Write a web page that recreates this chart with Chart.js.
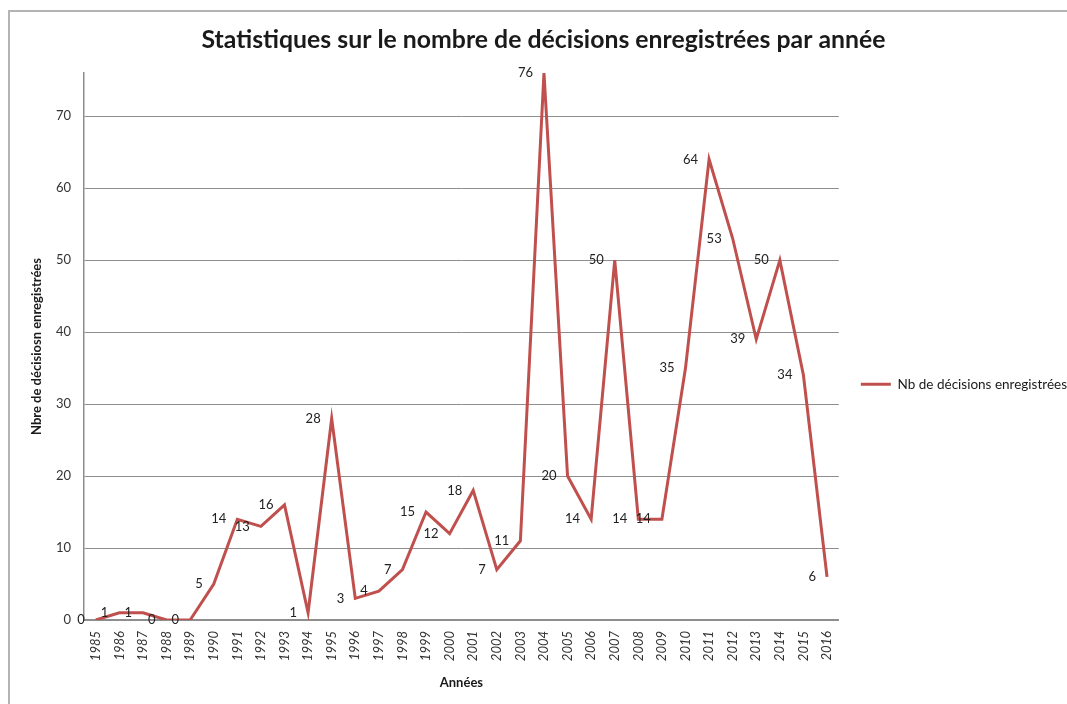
<!DOCTYPE html>
<html>
<head>
<meta charset="utf-8">
<script src="https://cdn.jsdelivr.net/npm/chart.js@4"></script>
<style>
  body { margin: 0; background: #fff; }
  #frame {
    position: absolute; left: 8px; top: 10px; right: 0; bottom: 0;
    border-top: 2px solid #b4b4b4; border-left: 2px solid #b4b4b4;
  }
  #myChart { position: absolute; left: 0; top: 0; }
</style>
</head>
<body>
<div id="frame"></div>
<canvas id="myChart" width="1067" height="704"></canvas>
<script>
const years = ["1985", "1986", "1987", "1988", "1989", "1990", "1991", "1992", "1993", "1994", "1995",
  "1996", "1997", "1998", "1999", "2000", "2001", "2002", "2003", "2004", "2005", "2006",
  "2007", "2008", "2009", "2010", "2011", "2012", "2013", "2014", "2015", "2016"];
const decisions = [0, 1, 1, 0, 0, 5, 14, 13, 16, 1, 28, 3, 4, 7, 15, 12, 18, 7, 11, 76, 20, 14,
  50, 14, 14, 35, 64, 53, 39, 50, 34, 6];
const yMax = 76;

const red = "#c0504d";
const grey = "#8e8e8e";

// values written just left of each point
const valueLabels = {
  id: "valueLabels",
  afterDatasetsDraw(chart) {
    const ctx = chart.ctx;
    const meta = chart.getDatasetMeta(0);
    ctx.save();
    ctx.font = "13px Lato";
    ctx.fillStyle = "#222";
    ctx.textAlign = "right";
    ctx.textBaseline = "middle";
    meta.data.forEach((pt, i) => {
      ctx.fillText(decisions[i], pt.x - 11, pt.y);
    });
    ctx.restore();
  },
};

new Chart("myChart", {
  type: "line",
  data: {
    labels: years,
    datasets: [
      {
        label: "Nb de décisions enregistrées",
        data: decisions,
        borderColor: red,
        backgroundColor: red,
        borderWidth: 3,
        pointRadius: 0,
        tension: 0,
      },
    ],
  },
  options: {
    responsive: false,
    animation: false,
    layout: { padding: { left: 10, right: -10, top: 0, bottom: 0 } },
    plugins: {
      title: {
        display: true,
        text: "Statistiques sur le nombre de décisions enregistrées par année",
        color: "#1a1a1a",
        font: { family: "Lato", size: 24.8, weight: "bold" },
        padding: { top: 25.1, bottom: 18.1 },
      },
      legend: {
        position: "right",
        title: { display: true, text: " ", padding: { top: 0, bottom: 50 }, font: { size: 12 } },
        labels: {
          usePointStyle: true,
          pointStyle: "line",
          pointStyleWidth: 30,
          padding: 22,
          color: "#1a1a1a",
          font: { family: "Lato", size: 13.5 },
        },
      },
      tooltip: { enabled: false },
    },
    scales: {
      x: {
        offset: true,
        grid: { display: false, drawTicks: false },
        border: { color: grey, width: 1.5 },
        ticks: {
          autoSkip: false,
          minRotation: 90,
          maxRotation: 90,
          padding: 11,
          color: "#333",
          font: { family: "Lato", size: 13, style: "italic" },
        },
        title: {
          display: true,
          text: "Années",
          color: "#1a1a1a",
          font: { family: "Lato", size: 13, weight: "bold" },
          padding: { top: 4, bottom: 13 },
        },
        afterFit: (scale) => { scale.height = 84; },
      },
      y: {
        min: 0,
        max: yMax,
        border: { color: grey, width: 1.5 },
        grid: { color: grey, lineWidth: 1, drawTicks: false },
        ticks: {
          stepSize: 10,
          includeBounds: false,
          padding: 13,
          color: "#333",
          font: { family: "Lato", size: 13 },
        },
        title: {
          display: true,
          text: "Nbre de décisiosn enregistrées",
          color: "#1a1a1a",
          font: { family: "Lato", size: 13, weight: "bold" },
          padding: { top: 19, bottom: 0 },
        },
        afterFit: (scale) => { scale.width = 74; },
      },
    },
  },
  plugins: [valueLabels],
});
</script>
</body>
</html>
